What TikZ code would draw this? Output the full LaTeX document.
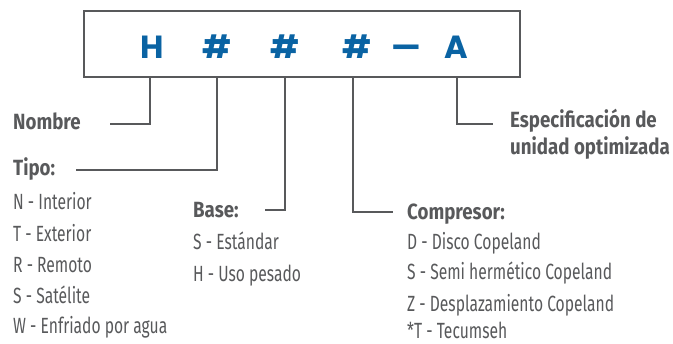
\documentclass[tikz,border=0pt]{standalone}
\usepackage{fontspec}
\setmainfont{Fira Sans}[FakeStretch=0.71, BoldFeatures={FakeStretch=0.85}]
\newfontfamily\boxfont{Poppins}
\definecolor{txt}{HTML}{58595B}
\definecolor{blu}{HTML}{0A63A3}
\definecolor{ln}{HTML}{58595B}
\begin{document}
\begin{tikzpicture}[x=1pt,y=-1pt,
  head/.style={anchor=base west, inner sep=0pt, text=txt, font=\fontsize{22}{22}\selectfont\bfseries},
  item/.style={anchor=base west, inner sep=0pt, text=txt, font=\fontsize{22}{22}\selectfont},
  letter/.style={anchor=base, inner sep=0pt, text=blu, font=\boxfont\bfseries\fontsize{32}{32}\selectfont},
  conn/.style={draw=ln, line width=1.8pt},
  frame/.style={draw=ln, line width=2.3pt, minimum width=436pt, minimum height=66pt, inner sep=0pt}]
\useasboundingbox (0,0) rectangle (673,344);
\node[frame] (box) at (302,44) {};
\node[letter] (lH) at (152,59) {H};
\node[letter] (l1) at (217,59) {\#};
\node[letter] (l2) at (285,59) {\#};
\node[letter] (l3) at (357,59) {\#};
\node[letter] (ld) at (406,59) {—};
\node[letter] (lA) at (456,59) {A};
% headings
\node[head] (nombre) at (13,130) {Nombre};
\node[head] (tipo) at (13,176) {Tipo:};
\node[head] (base) at (193,218) {Base:};
\node[head] (comp) at (407,220) {Compresor:};
\node[head] (espec) at (510,128) {Especificación de};
\node[head] (espec2) at (510,155) {unidad optimizada};
% lists
\node[item] (t1) at (13,210) {N - Interior};
\node[item] (t2) at (13,242) {T - Exterior};
\node[item] (t3) at (13,273) {R - Remoto};
\node[item] (t4) at (13,304) {S - Satélite};
\node[item] (t5) at (13,334) {W - Enfriado por agua};
\node[item] (b1) at (193,250) {S - Estándar};
\node[item] (b2) at (193,282) {H - Uso pesado};
\node[item] (c1) at (407,250) {D - Disco Copeland};
\node[item] (c2) at (407,280) {S - Semi hermético Copeland};
\node[item] (c3) at (407,312) {Z - Desplazamiento Copeland};
\node[item] (c4) at (407,339) {*T - Tecumseh};
% connector ends
\coordinate (xH) at (150,0);
\coordinate (x1) at (217,0);
\coordinate (x2) at (285,0);
\coordinate (x3) at (353,0);
\coordinate (xA) at (457,0);
\coordinate (eN) at (110,124);
\coordinate (eT) at (76,170);
\coordinate (eB) at (265,210);
\coordinate (eC) at (393,212);
\coordinate (eA) at (493,124);
\draw[conn] (box.south -| xH) |- (eN);
\draw[conn] (box.south -| x1) |- (eT);
\draw[conn] (box.south -| x2) |- (eB);
\draw[conn] (box.south -| x3) |- (eC);
\draw[conn] (box.south -| xA) |- (eA);
\end{tikzpicture}
\end{document}
